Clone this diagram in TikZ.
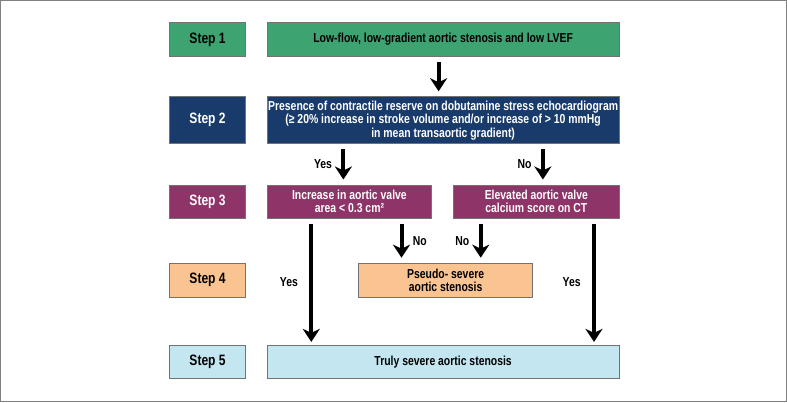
\documentclass[tikz,border=0pt]{standalone}
\usepackage{fontspec}
\setmainfont{Liberation Sans}[FakeStretch=0.8]
\usepackage{tikz}
\usetikzlibrary{positioning,arrows.meta}

\definecolor{stepgreen}{RGB}{60,163,113}
\definecolor{stepnavy}{RGB}{24,59,107}
\definecolor{stepplum}{RGB}{142,52,104}
\definecolor{steppeach}{RGB}{250,196,146}
\definecolor{stepsky}{RGB}{196,230,240}

\tikzset{
  box/.style={draw=black!55, line width=0.9pt, inner sep=1pt, align=center,
    font=\bfseries\fontsize{13}{13.5}\selectfont},
  stepbox/.style={box, minimum width=75pt, font=\bfseries\fontsize{15}{16}\selectfont},
  arr/.style={line width=4pt, -{Stealth[length=13pt,width=17pt,inset=4pt]},
    shorten <=5pt, shorten >=5pt},
  lbl/.style={font=\bfseries\fontsize{13}{13.5}\selectfont}
}

\begin{document}
\begin{tikzpicture}[x=1pt,y=-1pt]
\draw[draw=black!50, line width=1pt] (1,1) rectangle (785,401);

% step column
\node[stepbox, fill=stepgreen, minimum height=34pt] at (207.5,40)(s1){Step 1};
\node[stepbox, fill=stepnavy, text=white, minimum height=47pt] at (207.5,120.5)(s2){Step 2};
\node[stepbox, fill=stepplum, text=white, minimum height=33pt] at (207.5,201.5)(s3){Step 3};
\node[stepbox, fill=steppeach, minimum height=34pt] at (207.5,280)(s4){Step 4};
\node[stepbox, fill=stepsky, minimum height=33pt] at (207.5,361.5)(s5){Step 5};

% flow boxes
\node[box, fill=stepgreen, minimum width=351pt, minimum height=34pt] at (442.5,40)(low){Low-flow, low-gradient aortic stenosis and low LVEF};
\node[box, fill=stepnavy, text=white, minimum width=351pt, minimum height=47pt] at (442.5,120.5)(reserve){Presence of contractile reserve on dobutamine stress echocardiogram\\
(≥ 20\% increase in stroke volume and/or increase of > 10 mmHg\\
in mean transaortic gradient)};
\node[box, fill=stepplum, text=white, minimum width=164pt, minimum height=33pt] at (349,201.5)(area){Increase in aortic valve\\area < 0.3 cm²};
\node[box, fill=stepplum, text=white, minimum width=165pt, minimum height=33pt] at (535.5,201.5)(calc){Elevated aortic valve\\calcium score on CT};
\node[box, fill=steppeach, minimum width=174pt, minimum height=34pt] at (445,280)(pseudo){Pseudo- severe\\aortic stenosis};
\node[box, fill=stepsky, minimum width=351pt, minimum height=33pt] at (442.5,361.5)(truly){Truly severe aortic stenosis};

% arrows
\draw[arr] ([xshift=-4.5pt]low.south) -- ([xshift=-4.5pt]reserve.north);
\draw[arr] ([xshift=-6pt]area.north |- reserve.south) -- ([xshift=-6pt]area.north)
  node[lbl, midway, left=6pt]{Yes};
\draw[arr] ([xshift=6.5pt]calc.north |- reserve.south) -- ([xshift=6.5pt]calc.north)
  node[lbl, midway, left=6pt]{No};
\draw[arr, shorten >=3pt] ([xshift=-38pt]area.south) -- ([xshift=-38pt]area.south |- truly.north)
  node[lbl, midway, left=8pt]{Yes};
\draw[arr] ([xshift=52pt]area.south) -- ([xshift=52pt]area.south |- pseudo.north)
  node[lbl, midway, right=6pt]{No};
\draw[arr] ([xshift=-55.5pt]calc.south) -- ([xshift=-55.5pt]calc.south |- pseudo.north)
  node[lbl, midway, left=6pt]{No};
\draw[arr, shorten >=3pt] ([xshift=57.5pt]calc.south) -- ([xshift=57.5pt]calc.south |- truly.north)
  node[lbl, midway, left=8pt]{Yes};
\end{tikzpicture}
\end{document}
